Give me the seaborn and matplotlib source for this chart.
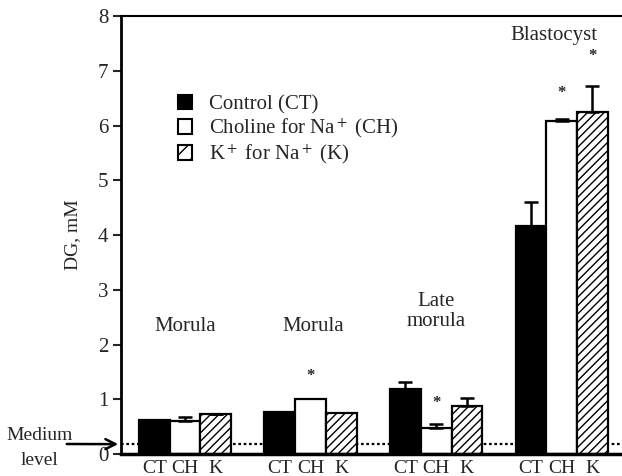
import numpy as np
import pandas as pd
import seaborn as sns
import matplotlib.pyplot as plt
from matplotlib.patches import Patch

# values (DG, mM)
stages = ["Morula", "Morula ", "Late\nmorula", "Blastocyst"]
conditions = ["CT", "CH", "K"]
ct_vals = [0.62, 0.76, 1.19, 4.16]
ch_vals = [0.61, 1.01, 0.48, 6.08]
k_vals = [0.73, 0.75, 0.87, 6.25]
ct_err = [0.01, 0.0, 0.13, 0.45]
ch_err = [0.06, 0.0, 0.06, 0.04]
k_err = [0.01, 0.0, 0.16, 0.48]
medium_level = 0.18
# significance stars: (stage index, condition index, y)
stars = [(1, 1, 1.42), (2, 1, 0.93), (3, 1, 6.60), (3, 2, 7.27)]
stage_label_pos = [(0, 2.33), (1.02, 2.33), (2.0, 2.6), (2.94, 7.64)]
legend_labels = ["Control (CT)", "Choline for Na$^+$ (CH)", "K$^+$ for Na$^+$ (K)"]


def main():
    sns.set_theme(style="white")
    plt.rcParams['font.family'] = ['Liberation Serif', 'DejaVu Serif']
    plt.rcParams['mathtext.fontset'] = 'stix'
    plt.rcParams['hatch.linewidth'] = 1.0

    df = pd.DataFrame({
        'stage': np.repeat(stages, 3),
        'cond': conditions * len(stages),
        'value': np.ravel(np.column_stack([ct_vals, ch_vals, k_vals])),
        'err': np.ravel(np.column_stack([ct_err, ch_err, k_err])),
    })

    fig = plt.figure(figsize=(6.22, 4.76), dpi=100)
    ax = fig.add_axes([0.1945, 0.0462, 0.8055, 0.9198])

    ax.axhline(medium_level, color='black', linestyle=(0, (1.2, 1.2)), linewidth=1.6, zorder=0)

    sns.barplot(data=df, x='stage', y='value', hue='cond', hue_order=conditions,
                palette=['black', 'white', 'white'], width=0.735, gap=0,
                edgecolor='black', linewidth=1.6, legend=False, ax=ax, zorder=2)

    centers = {}
    for ci, cont in enumerate(ax.containers):
        for si, bar in enumerate(cont):
            centers[(si, ci)] = bar.get_x() + bar.get_width() / 2
            if conditions[ci] == 'K':
                bar.set_hatch('////')

    errs = [ct_err, ch_err, k_err]
    vals = [ct_vals, ch_vals, k_vals]
    for ci in range(3):
        for si in range(len(stages)):
            if errs[ci][si] > 0:
                ax.errorbar(centers[(si, ci)], vals[ci][si], yerr=[[0], [errs[ci][si]]],
                            fmt='none', ecolor='black', elinewidth=1.8, capsize=5,
                            capthick=1.8, zorder=3)

    for si, ci, y in stars:
        ax.text(centers[(si, ci)], y, '*', ha='center', va='center', fontsize=12,
                fontweight='bold')

    for name, (x, y) in zip(stages, stage_label_pos):
        ax.text(x, y, name.strip(), ha='center', va='center', fontsize=15,
                linespacing=1.1)

    # per-bar condition codes under the axis
    ax.set_xticks([])
    for si in range(len(stages)):
        for ci, code in enumerate(conditions):
            ax.annotate(code, xy=(centers[(si, ci)], 0), xycoords='data',
                        xytext=(0, -13.5), textcoords='offset points',
                        ha='center', va='baseline', fontsize=14, annotation_clip=False)
    ax.set_xlim(-0.51, 3.48)
    ax.set_ylim(0, 8)
    ax.set_yticks(range(9))
    ax.set_yticklabels([str(i) for i in range(9)], fontsize=15)
    ax.set_xlabel('')
    ax.set_ylabel('DG, mM', fontsize=14, labelpad=12)

    ax.tick_params(axis='y', direction='out', length=6, width=1.5, pad=3, left=True)
    ax.spines['right'].set_visible(False)
    ax.spines['left'].set_linewidth(2)
    ax.spines['bottom'].set_linewidth(2.5)
    ax.spines['top'].set_linewidth(1.5)
    for s in ax.spines.values():
        s.set_color('black')

    handles = [Patch(facecolor='black', edgecolor='black', linewidth=1.5),
               Patch(facecolor='white', edgecolor='black', linewidth=1.5),
               Patch(facecolor='white', edgecolor='black', linewidth=1.5, hatch='//')]
    ax.legend(handles, legend_labels, loc='upper left', bbox_to_anchor=(0.097, 0.84),
              frameon=False, fontsize=15, handlelength=0.7, handleheight=0.7,
              handletextpad=0.8, labelspacing=0.12, borderaxespad=0)

    fig.text(40 / 622, 1 - 448 / 476, 'Medium\nlevel', ha='center', va='center',
             fontsize=14, linespacing=1.55)
    ax.annotate('', xy=(-0.51, medium_level), xycoords='data',
                xytext=(64 / 622, 1 - 444 / 476), textcoords='figure fraction',
                arrowprops=dict(arrowstyle='->', color='black', lw=1.8,
                                mutation_scale=18),
                annotation_clip=False)

    fig.savefig('out.png', dpi=100)
    plt.close(fig)


if __name__ == "__main__":
    main()
